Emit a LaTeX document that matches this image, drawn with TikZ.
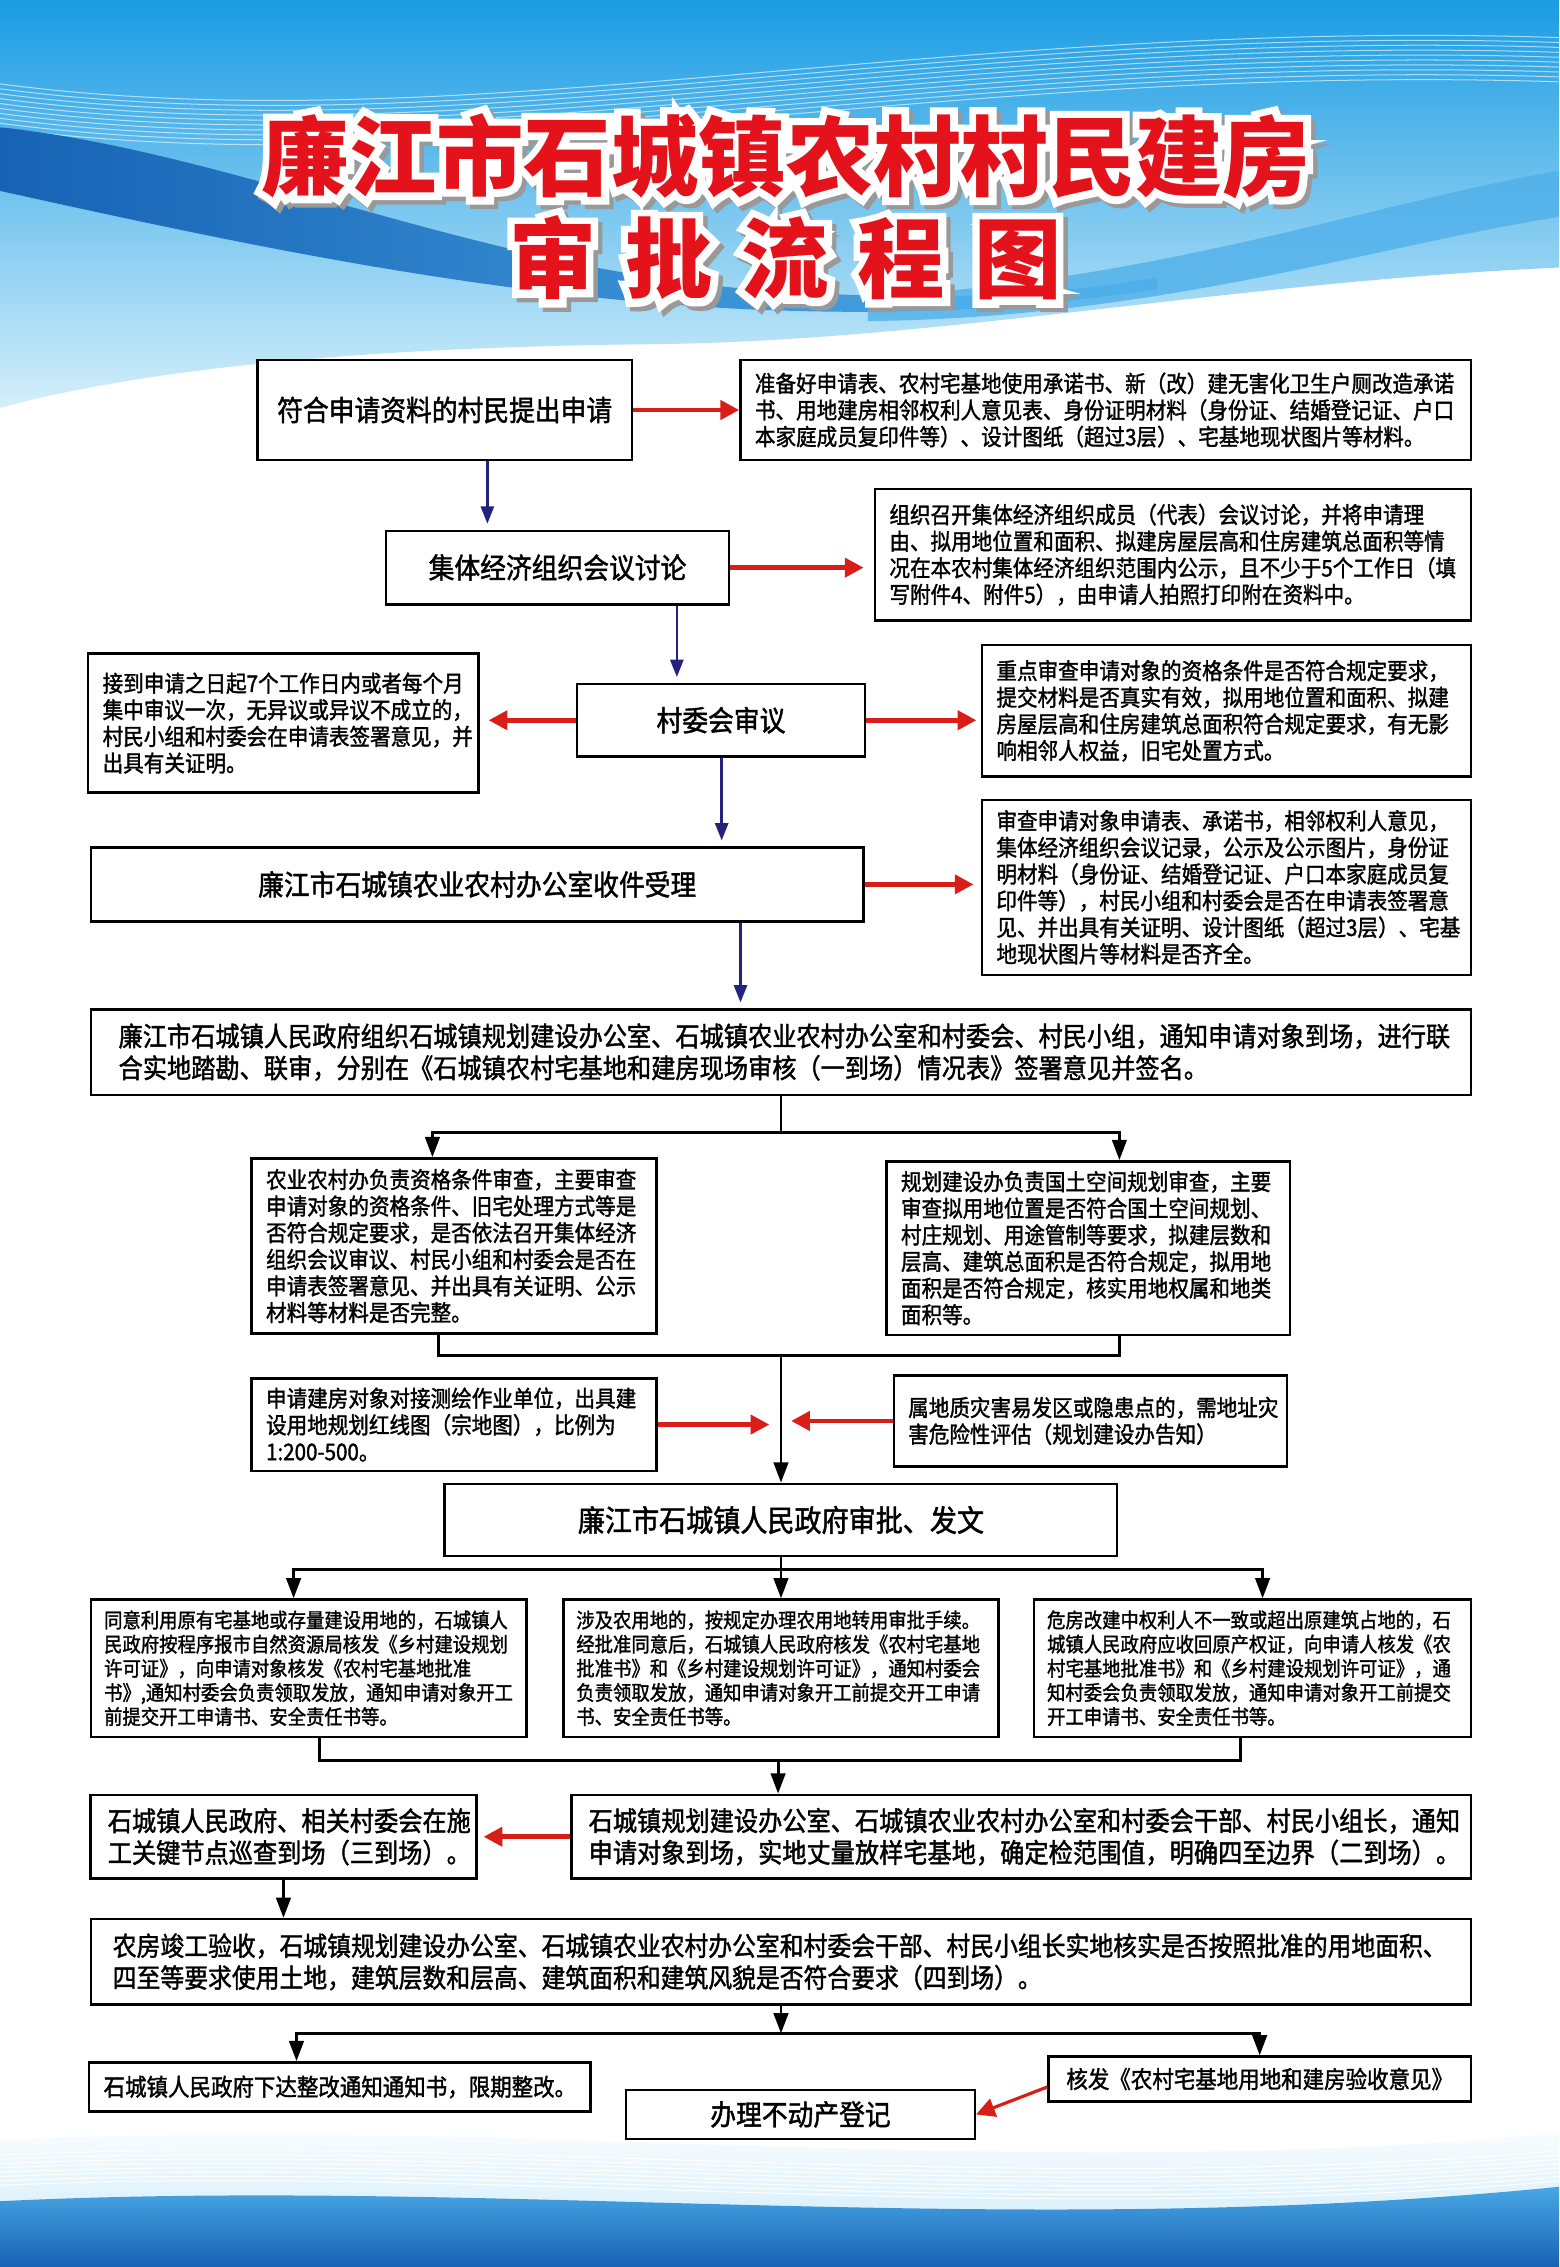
\documentclass[tikz,border=0pt]{standalone}
\usepackage{fontspec}
\usepackage{tikz}
\usetikzlibrary{arrows.meta}
\newfontfamily\bodyfont{Noto Sans CJK SC}[FakeStretch=0.9,FakeBold=1.5]
\newfontfamily\headfont{Noto Sans CJK SC}
\newfontfamily\halofont{Noto Sans CJK SC}[FakeBold=17]
\definecolor{skytop}{HTML}{1A9CE3}
\definecolor{skylow}{HTML}{D4EFFB}
\definecolor{banddark}{HTML}{1762B4}
\definecolor{bandmid}{HTML}{4FB0EA}
\definecolor{palewave}{HTML}{C6E8F8}
\definecolor{titlered}{HTML}{E3121B}
\definecolor{arrowred}{HTML}{D91E18}
\definecolor{arrowblue}{HTML}{23237E}
\newcommand{\headone}{廉江市石城镇农村村民建房}
\newcommand{\headtwo}{审\hspace{20pt}批\hspace{20pt}流\hspace{20pt}程\hspace{20pt}图}

\begin{document}
\begin{tikzpicture}[x=1pt,y=-1pt,
            box/.style={draw=black,line width=1.7pt,fill=white,inner xsep=10pt,inner ysep=3pt},
            stage/.style={box,font=\bodyfont\fontsize{19.8}{22}\selectfont},
            wide/.style={box,align=left,font=\bodyfont\fontsize{18.6}{22}\selectfont},
            note/.style={box,align=left,font=\bodyfont\fontsize{15.8}{18.4}\selectfont},
            permit/.style={box,align=left,inner xsep=9pt,font=\bodyfont\fontsize{14.1}{16.7}\selectfont},
            redarrow/.style={draw=arrowred,line width=3.2pt,-{Triangle[length=13pt,width=13pt]}},
            bluearrow/.style={draw=arrowblue,line width=1.8pt,shorten >=4pt,-{Triangle[length=12pt,width=9pt]}},
            blackarrow/.style={draw=black,line width=2pt,-{Triangle[length=14pt,width=10pt]}},
            trunk/.style={draw=black,line width=2pt,line cap=rect},
            headtext/.style={font=\headfont\bfseries\fontsize{60.4}{64}\selectfont,inner sep=0pt},
            halotext/.style={font=\halofont\bfseries\fontsize{60.4}{64}\selectfont,inner sep=0pt}]
            \useasboundingbox (0,0) rectangle (1078,1567.5);
            \fill[white] (0,0) rectangle (1078,1567.5);

            \shade[top color=skytop,bottom color=skylow] (0,0) -- (1078,0) -- (1078,185) .. controls (850,195) and (650,236) .. (450,238) .. controls (250,240) and (100,255) .. (0,282) -- cycle;
            \foreach \i in {0,...,9}
                \draw[white,opacity=0.6,line width=0.7pt] (0,58+3.4*\i) .. controls (320,100+3.4*\i) and (650,12+3.4*\i) .. (1078,26+3.4*\i);
            \shade[left color=banddark,right color=bandmid] (0,88) .. controls (160,105) and (330,185) .. (520,200) .. controls (640,209) and (720,205) .. (800,192) -- (800,200) .. controls (700,215) and (620,218) .. (520,214) .. controls (330,205) and (150,165) .. (0,132) -- cycle;
            \fill[bandmid,opacity=0.8] (600,205) .. controls (800,195) and (950,140) .. (1078,118) -- (1078,150) .. controls (950,170) and (800,220) .. (600,222) -- cycle;

            \shade[top color=white,bottom color=palewave] (0,1480) .. controls (350,1462) and (700,1510) .. (1078,1475) -- (1078,1567.5) -- (0,1567.5) -- cycle;
            \foreach \i in {0,...,7}
                \draw[white,line width=0.7pt] (0,1490+3*\i) .. controls (350,1475+3*\i) and (700,1520+3*\i) .. (1078,1487+3*\i);
            \shade[top color=bandmid,bottom color=banddark] (0,1522) .. controls (350,1505) and (700,1550) .. (1078,1512) -- (1078,1567.5) -- (0,1567.5) -- cycle;

            \node[halotext,text=black!40,xshift=3,yshift=-3] (shadow1) at (543.5,108) {\headone};
            \node[halotext,text=black!40,xshift=3,yshift=-3] (shadow2) at (543,178.5) {\headtwo};
            \node[halotext,text=white] (halo1) at (543.5,108) {\headone};
            \node[halotext,text=white] (halo2) at (543,178.5) {\headtwo};
            \node[headtext,text=titlered] (title1) at (543.5,108) {\headone};
            \node[headtext,text=titlered] (title2) at (543,178.5) {\headtwo};

            \node[stage,minimum width=259,minimum height=69] (apply) at (307.5,283.5) {符合申请资料的村民提出申请};
            \node[note,text width=485,minimum height=69] (materials) at (764.5,283.5) {准备好申请表、农村宅基地使用承诺书、新（改）建无害化卫生户厕改造承诺\\书、用地建房相邻权利人意见表、身份证明材料（身份证、结婚登记证、户口\\本家庭成员复印件等）、设计图纸（超过3层）、宅基地现状图片等材料。};
            \node[stage,minimum width=237,minimum height=51] (meeting) at (385.5,392.5) {集体经济组织会议讨论};
            \node[note,text width=392,minimum height=91] (publicity) at (811,383.5) {组织召开集体经济组织成员（代表）会议讨论，并将申请理\\由、拟用地位置和面积、拟建房屋层高和住房建筑总面积等情\\况在本农村集体经济组织范围内公示，且不少于5个工作日（填\\写附件4、附件5），由申请人拍照打印附在资料中。};
            \node[stage,minimum width=199,minimum height=50] (review) at (498.5,498) {村委会审议};
            \node[note,text width=250,minimum height=96] (sign) at (196,500) {接到申请之日起7个工作日内或者每个月\\集中审议一次，无异议或异议不成立的，\\村民小组和村委会在申请表签署意见，并\\出具有关证明。};
            \node[note,text width=318,minimum height=91] (focus) at (848,491.5) {重点审查申请对象的资格条件是否符合规定要求，\\提交材料是否真实有效，拟用地位置和面积、拟建\\房屋层高和住房建筑总面积符合规定要求，有无影\\响相邻人权益，旧宅处置方式。};
            \node[stage,minimum width=534,minimum height=51] (accept) at (330,611.5) {廉江市石城镇农业农村办公室收件受理};
            \node[note,text width=318,minimum height=121] (check) at (848,613.5) {审查申请对象申请表、承诺书，相邻权利人意见，\\集体经济组织会议记录，公示及公示图片，身份证\\明材料（身份证、结婚登记证、户口本家庭成员复\\印件等），村民小组和村委会是否在申请表签署意\\见、并出具有关证明、设计图纸（超过3层）、宅基\\地现状图片等材料是否齐全。};
            \node[wide,inner xsep=19pt,text width=916,minimum height=59] (survey) at (540,727.5) {廉江市石城镇人民政府组织石城镇规划建设办公室、石城镇农业农村办公室和村委会、村民小组，通知申请对象到场，进行联\\合实地踏勘、联审，分别在《石城镇农村宅基地和建房现场审核（一到场）情况表》签署意见并签名。};

            \node[note,text width=260,minimum height=121] (agri) at (314,861.5) {农业农村办负责资格条件审查，主要审查\\申请对象的资格条件、旧宅处理方式等是\\否符合规定要求，是否依法召开集体经济\\组织会议审议、村民小组和村委会是否在\\申请表签署意见、并出具有关证明、公示\\材料等材料是否完整。};
            \node[note,text width=259,minimum height=120] (plan) at (752.5,863) {规划建设办负责国土空间规划审查，主要\\审查拟用地位置是否符合国土空间规划、\\村庄规划、用途管制等要求，拟建层数和\\层高、建筑总面积是否符合规定，拟用地\\面积是否符合规定，核实用地权属和地类\\面积等。};
            \node[note,text width=260,minimum height=64] (redline) at (314,985) {申请建房对象对接测绘作业单位，出具建\\设用地规划红线图（宗地图），比例为\\1:200-500。};
            \node[note,text width=252,minimum height=63] (hazard) at (754,982.5) {属地质灾害易发区或隐患点的，需地址灾\\害危险性评估（规划建设办告知）};
            \node[stage,font=\bodyfont\fontsize{20.8}{24}\selectfont,minimum width=465,minimum height=50] (approve) at (540,1051) {廉江市石城镇人民政府审批、发文};

            \node[permit,text width=283,minimum height=95] (permitA) at (213.5,1153.5) {同意利用原有宅基地或存量建设用地的，石城镇人\\民政府按程序报市自然资源局核发《乡村建设规划\\许可证》，向申请对象核发《农村宅基地批准\\书》,通知村委会负责领取发放，通知申请对象开工\\前提交开工申请书、安全责任书等。};
            \node[permit,text width=283,minimum height=95] (permitB) at (540,1153.5) {涉及农用地的，按规定办理农用地转用审批手续。\\经批准同意后，石城镇人民政府核发《农村宅基地\\批准书》和《乡村建设规划许可证》，通知村委会\\负责领取发放，通知申请对象开工前提交开工申请\\书、安全责任书等。};
            \node[permit,text width=284,minimum height=95] (permitC) at (866,1153.5) {危房改建中权利人不一致或超出原建筑占地的，石\\城镇人民政府应收回原产权证，向申请人核发《农\\村宅基地批准书》和《乡村建设规划许可证》，通\\知村委会负责领取发放，通知申请对象开工前提交\\开工申请书、安全责任书等。};
            \node[wide,inner xsep=12pt,text width=243,minimum height=58] (inspect) at (196,1270) {石城镇人民政府、相关村委会在施\\工关键节点巡查到场（三到场）。};
            \node[wide,inner xsep=12pt,text width=598,minimum height=58] (stake) at (706,1270) {石城镇规划建设办公室、石城镇农业农村办公室和村委会干部、村民小组长，通知\\申请对象到场，实地丈量放样宅基地，确定检范围值，明确四至边界（二到场）。};
            \node[wide,font=\bodyfont\fontsize{18.3}{22}\selectfont,inner xsep=15pt,text width=924,minimum height=59] (final) at (540,1356.5) {农房竣工验收，石城镇规划建设办公室、石城镇农业农村办公室和村委会干部、村民小组长实地核实是否按照批准的用地面积、\\四至等要求使用土地，建筑层数和层高、建筑面积和建筑风貌是否符合要求（四到场）。};
            \node[stage,font=\bodyfont\fontsize{16.5}{19}\selectfont,minimum width=346,minimum height=34] (rectify) at (235,1443) {石城镇人民政府下达整改通知通知书，限期整改。};
            \node[stage,minimum width=241,minimum height=34] (register) at (553.5,1462) {办理不动产登记};
            \node[stage,font=\bodyfont\fontsize{16.5}{19}\selectfont,minimum width=292,minimum height=31] (certify) at (871,1437.5) {核发《农村宅基地用地和建房验收意见》};

            \draw[redarrow] (apply) -- (materials);
            \draw[bluearrow] (apply.south -| 337,0) -- (meeting.north -| 337,0);
            \draw[redarrow,shorten >=7pt] (meeting.east) -- (meeting.east -| publicity.west);
            \draw[bluearrow] (meeting.south -| 468,0) -- (review.north -| 468,0);
            \draw[redarrow,shorten >=6pt] (review.west) -- (review.west -| sign.east);
            \draw[redarrow,shorten >=3pt] (review.east) -- (review.east -| focus.west);
            \draw[bluearrow] (review.south -| 499,0) -- (accept.north -| 499,0);
            \draw[redarrow,shorten >=5pt] (accept.east) -- (accept.east -| check.west);
            \draw[bluearrow] (accept.south -| 512,0) -- (survey.north -| 512,0);
            \coordinate (split1) at (540,783);
            \draw[trunk] (survey.south) -- (split1);
            \draw[blackarrow] (split1) -| (agri.north -| 299,0);
            \draw[blackarrow] (split1) -| (plan.north -| 774,0);
            \coordinate (join1) at (540,937);
            \draw[trunk] (agri.south -| 303,0) |- (join1) -| (plan.south -| 774,0);
            \draw[blackarrow] (join1) -- (approve.north);
            \draw[redarrow,shorten >=8pt] (redline.east) -- (redline.east -| join1);
            \draw[redarrow,shorten >=7pt] (hazard.west) -- (hazard.west -| join1);
            \coordinate (split2) at (540,1085);
            \draw[trunk] (approve.south) -- (split2);
            \draw[blackarrow] (split2) -| (permitA.north -| 203,0);
            \draw[blackarrow] (split2) -- (permitB.north);
            \draw[blackarrow] (split2) -| (permitC.north -| 873,0);
            \coordinate (join2) at (538,1217);
            \draw[trunk] (permitA.south -| 221,0) |- (join2) -| (permitC.south -| 858,0);
            \draw[blackarrow] (join2) -- (join2 |- stake.north);
            \draw[redarrow,shorten >=4pt] (stake.west) -- (inspect.east);
            \draw[blackarrow] (inspect.south) -- (final.north -| inspect.south);
            \coordinate (split3) at (540,1406);
            \draw[blackarrow] (final.south) -- (split3);
            \draw[blackarrow] (split3) -| (rectify.north -| 205,0);
            \draw[blackarrow] (split3) -| (certify.north);
            \draw[redarrow,line width=2.2pt] ([yshift=-5.5]certify.west) -- (register.east);
        \end{tikzpicture}
\end{document}
